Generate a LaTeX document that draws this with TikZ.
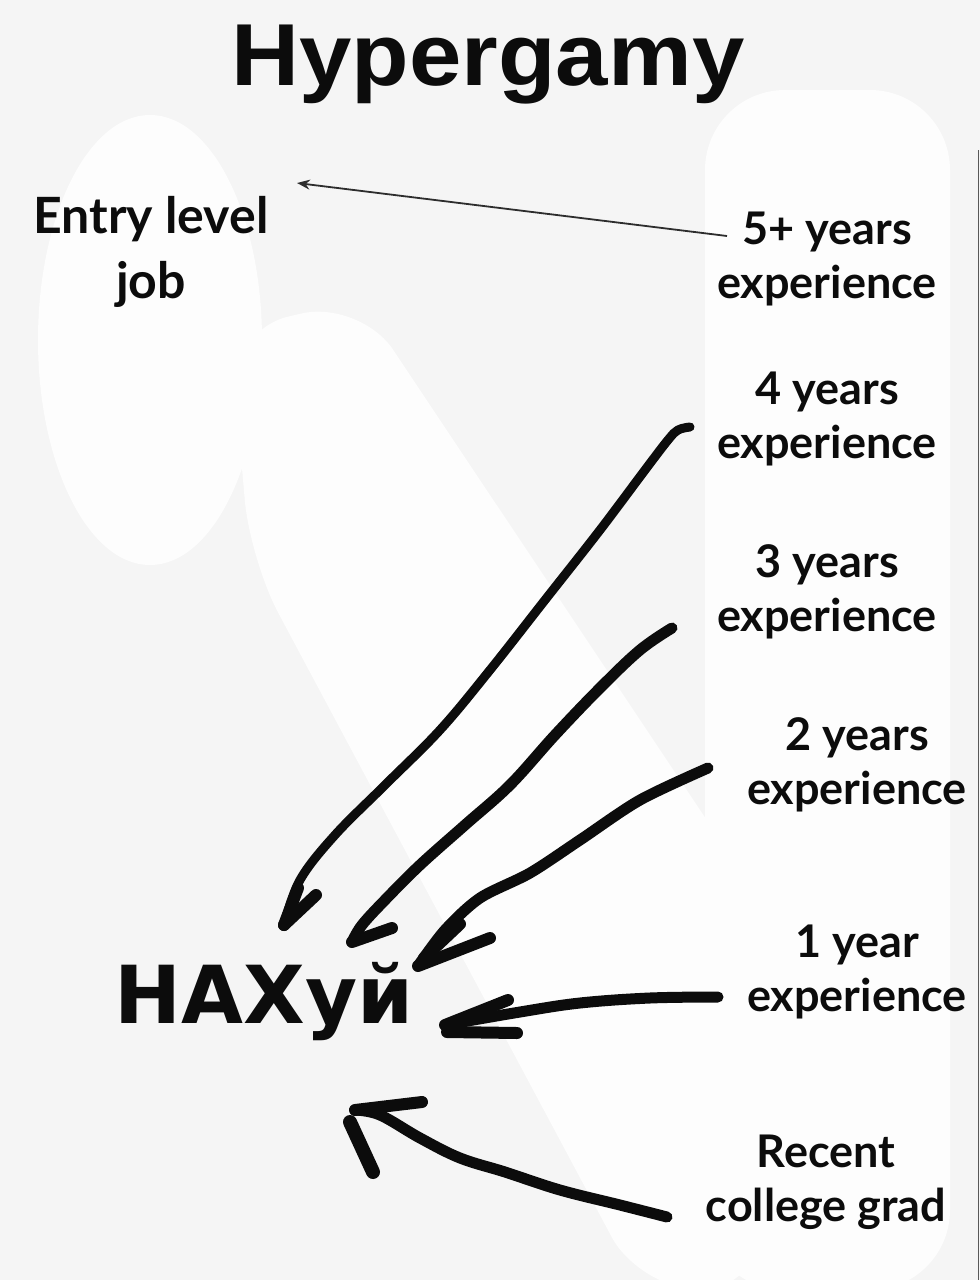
\documentclass[tikz,border=0pt]{standalone}
\usepackage{fontspec}
\setmainfont{Lato}
\newfontfamily\titlefont{Liberation Sans}
\newfontfamily\handfont{DejaVu Sans}
\usetikzlibrary{arrows.meta}
\definecolor{bg}{RGB}{245,245,245}
\definecolor{ghostc}{RGB}{253,253,253}
\definecolor{ink}{RGB}{12,12,12}
\definecolor{thinink}{RGB}{45,45,45}
\tikzset{
  lbl/.style={align=center, inner sep=0pt, text=ink,
    font=\fontsize{45}{54}\selectfont\bfseries},
  marker/.style={draw=ink, line width=11pt, line cap=round, line join=round},
  barb/.style={draw=ink, line width=12pt, line cap=round},
  thinarrow/.style={draw=thinink, line width=1.8pt,
    -{Stealth[length=13pt,width=10pt]}},
  ghost/.style={fill=ghostc, draw=none}
}
\begin{document}
\begin{tikzpicture}[x=1pt,y=-1pt]
\fill[bg] (0,0) rectangle (980,1280);
\useasboundingbox (0,0) rectangle (980,1280);
% faint background silhouettes
\fill[ghost] (150,340) ellipse (112 and 225);
\fill[ghost, rounded corners=80] (705,90) rectangle (950,1290);
\fill[ghost, rounded corners=60] (230,330) -- (360,300) -- (760,900) -- (760,1290) -- (640,1290) -- (250,560) -- cycle;
\draw[gray!70!black, line width=1.2pt] (978.5,150) -- (978.5,1280);

% title
\node[anchor=base, text=ink, inner sep=0pt, xscale=1.07,
  font=\titlefont\bfseries\fontsize{88}{88}\selectfont] (title) at (488,85) {Hypergamy};

% labels
\node[lbl, font=\fontsize{50}{65}\selectfont\bfseries] (entry) at (151,252) {Entry level\\job};
\node[lbl] (y5) at (827,259) {5+ years\\experience};
\node[lbl] (y4) at (827,419) {4 years\\experience};
\node[lbl] (y3) at (827,592) {3 years\\experience};
\node[lbl] (y2) at (857,765) {2 years\\experience};
\node[lbl] (y1) at (857,972) {1 year\\experience};
\node[lbl] (grad) at (826,1182) {Recent\\college grad};

% handwritten word
\node[inner sep=0pt, text=ink,
  font=\handfont\bfseries\fontsize{80}{80}\selectfont] (nax) at (264,1002) {НАХуй};

% thin arrow
\coordinate (s5) at (727,236);
\coordinate (e5) at (297,183);
\draw[thinarrow] (s5) -- (e5);

% hand-drawn arrows
\coordinate (s4) at (690,427);
\coordinate (t4) at (284,925);
\draw[marker, line width=9pt] plot[smooth, tension=0.6] coordinates {(s4) (678,430) (668,440) (645,470) (600,530) (545,600) (490,670) (440,730) (385,785) (335,835) (300,880) (t4)};
\draw[barb] (t4) -- (316,895);
\draw[barb] (t4) -- (298,888);

\coordinate (s3) at (672,628);
\coordinate (t3) at (352,942);
\draw[marker] plot[smooth, tension=0.6] coordinates {(s3) (640,650) (600,688) (555,735) (510,785) (465,825) (420,865) (385,900) (362,925) (t3)};
\draw[barb] (t3) -- (392,928);

\coordinate (s2) at (708,768);
\coordinate (t2) at (418,966);
\draw[marker] plot[smooth, tension=0.5] coordinates {(s2) (640,800) (580,840) (530,873) (480,898) (445,930) (t2)};
\draw[barb] (t2) -- (490,938);
\draw[barb] (424,958) -- (460,924);

\coordinate (s1) at (718,997);
\coordinate (t1) at (445,1025);
\draw[marker] plot[smooth, tension=0.6] coordinates {(s1) (650,998) (580,1003) (520,1012) (t1)};
\draw[barb] (t1) -- (508,1000);
\draw[barb] (447,1032) -- (517,1033);

\coordinate (s0) at (667,1217);
\coordinate (t0) at (355,1110);
\draw[marker] plot[smooth, tension=0.6] coordinates {(s0) (620,1205) (560,1190) (505,1172) (460,1158) (420,1138) (380,1115) (t0)};
\draw[barb] (t0) -- (422,1102);
\draw[barb, line width=14pt] (350,1122) -- (373,1172);
\end{tikzpicture}
\end{document}
